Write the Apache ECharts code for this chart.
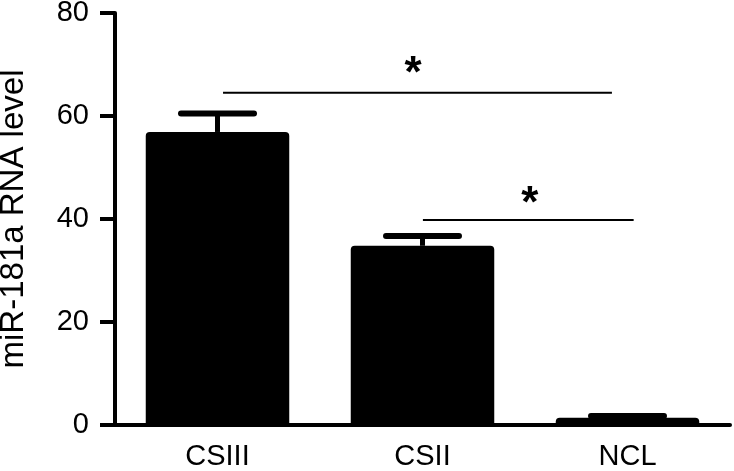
<!DOCTYPE html>
<html>
<head>
<meta charset="utf-8">
<script src="https://cdn.jsdelivr.net/npm/echarts@6/dist/echarts.min.js"></script>
<style>
  html, body { margin: 0; padding: 0; background: #fff; }
  #main { width: 734px; height: 471px; }
</style>
</head>
<body>
<div id="main"></div>
<script>
// miR-181a 表达柱状图
var categories = ['CSIII', 'CSII', 'NCL'];
var means = [56.9, 34.8, 1.4];
var errors = [3.6, 1.9, 0.35];
var yTicks = [0, 20, 40, 60, 80];

// 显著性标记：[起点, 终点, 高度]，横向以类别数为单位 (0~3)
var sigLines = [[0.527, 2.424, 64.5], [1.502, 2.53, 39.8]];
// 星号位置：[x, y, 文本]
var sigStars = [[1.454, 68.0, '*'], [2.024, 42.8, '*']];

var font = "'Liberation Sans', Arial, sans-serif";
var chart = echarts.init(document.getElementById('main'));

var errData = [];
for (var i = 0; i < categories.length; i++) {
    errData.push([i, means[i], errors[i]]);
}

var option = {
    animation: false,
    backgroundColor: '#fff',
    grid: { left: 115, right: 4, top: 13, bottom: 46, containLabel: false, outerBoundsMode: 'none' },
    xAxis: [{
        type: 'category',
        data: categories,
        axisLine: { lineStyle: { color: '#000', width: 4 } },
        axisTick: { alignWithLabel: true, length: 10, lineStyle: { color: '#000', width: 4 } },
        axisLabel: { color: '#000', fontSize: 29, fontFamily: font, margin: 17 }
    }, {
        type: 'value',
        min: 0,
        max: 3,
        show: false
    }],
    yAxis: {
        type: 'value',
        min: yTicks[0],
        max: yTicks[yTicks.length - 1],
        interval: 20,
        name: 'miR-181a RNA level',
        nameLocation: 'middle',
        nameGap: 85,
        nameTextStyle: { color: '#000', fontSize: 33, fontFamily: font },
        axisLine: { show: true, lineStyle: { color: '#000', width: 4 } },
        axisTick: { show: true, length: 15, lineStyle: { color: '#000', width: 4 } },
        axisLabel: { color: '#000', fontSize: 29, fontFamily: font, margin: 26 },
        splitLine: { show: false }
    },
    series: [{
        type: 'bar',
        data: means,
        barWidth: '70%',
        itemStyle: { color: '#000', borderRadius: [4, 4, 0, 0] }
    }, {
        type: 'custom',
        data: errData,
        z: 3,
        renderItem: function (params, api) {
            var idx = api.value(0);
            var top = api.coord([idx, api.value(1) + api.value(2)]);
            var base = api.coord([idx, api.value(1)]);
            var half = api.size([1, 0])[0] * 0.178;
            var style = { stroke: '#000', lineWidth: 6, lineCap: 'round' };
            return {
                type: 'group',
                children: [{
                    type: 'line',
                    shape: { x1: base[0], y1: base[1], x2: top[0], y2: top[1] },
                    style: { stroke: '#000', lineWidth: 5 }
                }, {
                    type: 'line',
                    shape: { x1: top[0] - half, y1: top[1], x2: top[0] + half, y2: top[1] },
                    style: style
                }]
            };
        }
    }, {
        type: 'custom',
        xAxisIndex: 1,
        data: sigLines,
        renderItem: function (params, api) {
            var p1 = api.coord([api.value(0), api.value(2)]);
            var p2 = api.coord([api.value(1), api.value(2)]);
            return {
                type: 'line',
                shape: { x1: p1[0], y1: p1[1], x2: p2[0], y2: p2[1] },
                style: { stroke: '#000', lineWidth: 2 }
            };
        }
    }, {
        type: 'custom',
        xAxisIndex: 1,
        data: sigStars,
        renderItem: function (params, api) {
            var p = api.coord([api.value(0), api.value(1)]);
            return {
                type: 'text',
                x: p[0],
                y: p[1],
                style: {
                    text: sigStars[params.dataIndex][2],
                    fill: '#000',
                    font: 'bold 44px ' + font,
                    align: 'center',
                    verticalAlign: 'middle'
                }
            };
        }
    }]
};

chart.setOption(option);
</script>
</body>
</html>
